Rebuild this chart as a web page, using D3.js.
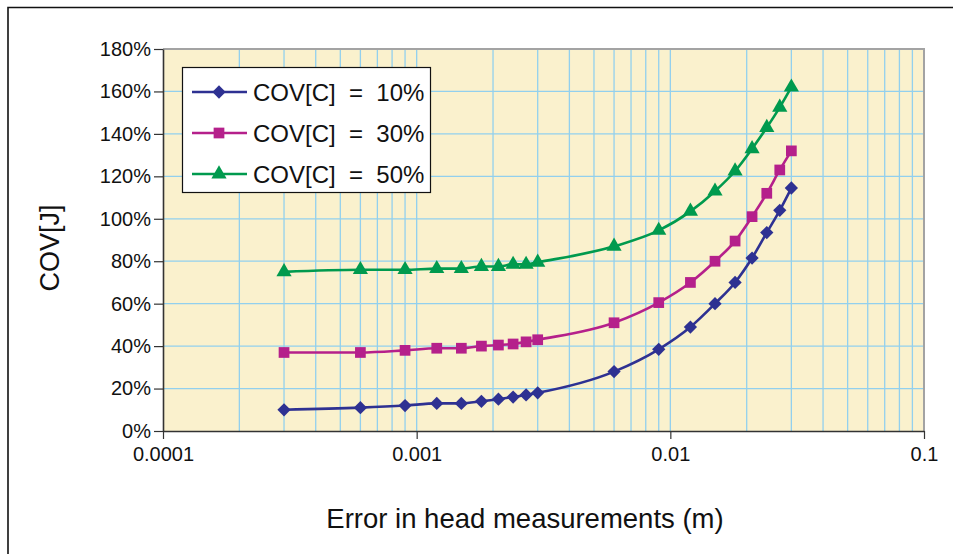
<!DOCTYPE html>
<html>
<head>
<meta charset="utf-8">
<script src="https://cdn.jsdelivr.net/npm/d3@7"></script>
<style>
  html, body { margin: 0; padding: 0; background: #fff; }
  svg { display: block; font-family: "Liberation Sans", Arial, sans-serif; }
</style>
</head>
<body>
<svg id="chart" width="953" height="554"></svg>
<script>
// Error in head measurements (m)
const errorValues = [0.0003, 0.0006, 0.0009, 0.0012, 0.0015, 0.0018, 0.0021, 0.0024, 0.0027, 0.003,
                     0.006, 0.009, 0.012, 0.015, 0.018, 0.021, 0.024, 0.027, 0.03];
// COV[J] in percent for each COV[C] level
const cov10 = [10, 11, 12, 13, 13, 14, 15, 16, 17, 18, 28, 38.5, 49, 60, 70, 81.5, 93.5, 104, 114.5];
const cov30 = [37, 37, 38, 39, 39, 40, 40.5, 41, 42, 43, 51, 60.5, 70, 80, 89.5, 101, 112, 123, 132];
const cov50 = [75, 76, 76, 76.5, 76.5, 77.5, 77.5, 78.5, 78.5, 79.5, 87, 94.5, 103.5, 113, 122.5, 133, 143, 152.5, 162];

const seriesNames = ["COV[C]  =  10%", "COV[C]  =  30%", "COV[C]  =  50%"];
const xTickValues = [0.0001, 0.001, 0.01, 0.1];
const xTickLabels = ["0.0001", "0.001", "0.01", "0.1"];
const yTickValues = [0, 20, 40, 60, 80, 100, 120, 140, 160, 180];

// diamonds are squares turned by 45 degrees
const series = [
  { name: seriesNames[0], values: cov10, color: "#2e3192", symbol: d3.symbolSquare, size: 88, rotate: 45 },
  { name: seriesNames[1], values: cov30, color: "#b5208b", symbol: d3.symbolSquare, size: 115, rotate: 0 },
  { name: seriesNames[2], values: cov50, color: "#009a4e", symbol: d3.symbolTriangle, size: 100, rotate: 0 }
];

const svg = d3.select("#chart");
const plot = { left: 163, right: 924, top: 49, bottom: 431 };

const x = d3.scaleLog().domain([0.0001, 0.1]).range([plot.left, plot.right]);
const y = d3.scaleLinear().domain([0, 180]).range([plot.bottom, plot.top]);

// outer frame
svg.append("path")
  .attr("d", `M8,554 V7.5 H953`)
  .attr("fill", "none").attr("stroke", "#111").attr("stroke-width", 1.6);

// plot background
svg.append("rect")
  .attr("x", plot.left).attr("y", plot.top)
  .attr("width", plot.right - plot.left).attr("height", plot.bottom - plot.top)
  .attr("fill", "#faf1cd");

// vertical gridlines at every 1..9 multiple of each decade
const gridX = [];
for (let e = -4; e < -1; e++) {
  for (let m = 1; m <= 9; m++) {
    const v = m * Math.pow(10, e);
    if (v > 0.0001) gridX.push(v);
  }
}
svg.append("g").selectAll("line").data(gridX).join("line")
  .attr("x1", d => x(d)).attr("x2", d => x(d))
  .attr("y1", plot.top).attr("y2", plot.bottom)
  .attr("stroke", "#92d0ee").attr("stroke-width", 1.3);

// horizontal gridlines
svg.append("g").selectAll("line").data(yTickValues.filter(v => v > 0 && v < 180)).join("line")
  .attr("x1", plot.left).attr("x2", plot.right)
  .attr("y1", d => y(d)).attr("y2", d => y(d))
  .attr("stroke", "#92d0ee").attr("stroke-width", 1.3);

// top and right plot border
svg.append("path")
  .attr("d", `M${plot.left},${plot.top} H${plot.right} V${plot.bottom}`)
  .attr("fill", "none").attr("stroke", "#a3a3a3").attr("stroke-width", 2);

// x axis
const xAxis = d3.axisBottom(x)
  .tickValues(xTickValues)
  .tickFormat((d, i) => xTickLabels[i])
  .tickSize(8).tickSizeOuter(0).tickPadding(8);
const gx = svg.append("g").attr("transform", `translate(0,${plot.bottom})`).call(xAxis);
gx.select(".domain").attr("stroke", "#333").attr("stroke-width", 1.6);
gx.selectAll(".tick line").attr("stroke", "#333").attr("stroke-width", 1.2);
gx.selectAll(".tick text").attr("font-size", 20).attr("fill", "#111")
  .attr("font-family", "Liberation Sans, Arial, sans-serif");

// y axis
const yAxis = d3.axisLeft(y)
  .tickValues(yTickValues)
  .tickFormat(d => d + "%")
  .tickSize(9).tickSizeOuter(0).tickPadding(3);
const gy = svg.append("g").attr("transform", `translate(${plot.left},0)`).call(yAxis);
gy.select(".domain").attr("stroke", "#333").attr("stroke-width", 1.6);
gy.selectAll(".tick line").attr("stroke", "#333").attr("stroke-width", 1.2);
gy.selectAll(".tick text").attr("font-size", 20).attr("fill", "#111")
  .attr("font-family", "Liberation Sans, Arial, sans-serif");

// axis titles
svg.append("text")
  .attr("x", 525).attr("y", 528)
  .attr("text-anchor", "middle").attr("font-size", 27.5).attr("fill", "#111")
  .text("Error in head measurements (m)");
svg.append("text")
  .attr("transform", "translate(59,248) rotate(-90)")
  .attr("text-anchor", "middle").attr("font-size", 27).attr("fill", "#111")
  .text("COV[J]");

// series lines and markers
const line = d3.line().x((d, i) => x(errorValues[i])).y(d => y(d)).curve(d3.curveMonotoneX);
series.forEach(s => {
  svg.append("path")
    .datum(s.values)
    .attr("d", line)
    .attr("fill", "none").attr("stroke", s.color).attr("stroke-width", 2.6);
  svg.append("g").selectAll("path").data(s.values).join("path")
    .attr("transform", (d, i) => `translate(${x(errorValues[i])},${y(d)}) rotate(${s.rotate})`)
    .attr("d", d3.symbol(s.symbol, s.size))
    .attr("fill", s.color);
});

// legend
const legend = svg.append("g");
legend.append("rect")
  .attr("x", 182.5).attr("y", 67.5).attr("width", 248).attr("height", 125)
  .attr("fill", "#fff").attr("stroke", "#111").attr("stroke-width", 1.2);
const rowY = [92, 133, 174];
series.forEach((s, i) => {
  const g = legend.append("g").attr("transform", `translate(0,${rowY[i]})`);
  g.append("line").attr("x1", 192).attr("x2", 247).attr("y1", 0).attr("y2", 0)
    .attr("stroke", s.color).attr("stroke-width", 2.6);
  g.append("path").attr("transform", `translate(219,0) rotate(${s.rotate})`)
    .attr("d", d3.symbol(s.symbol, s.size)).attr("fill", s.color);
  g.append("text").attr("x", 253).attr("y", 9)
    .attr("font-size", 24).attr("fill", "#111")
    .style("white-space", "pre")
    .text(s.name);
});
</script>
</body>
</html>
